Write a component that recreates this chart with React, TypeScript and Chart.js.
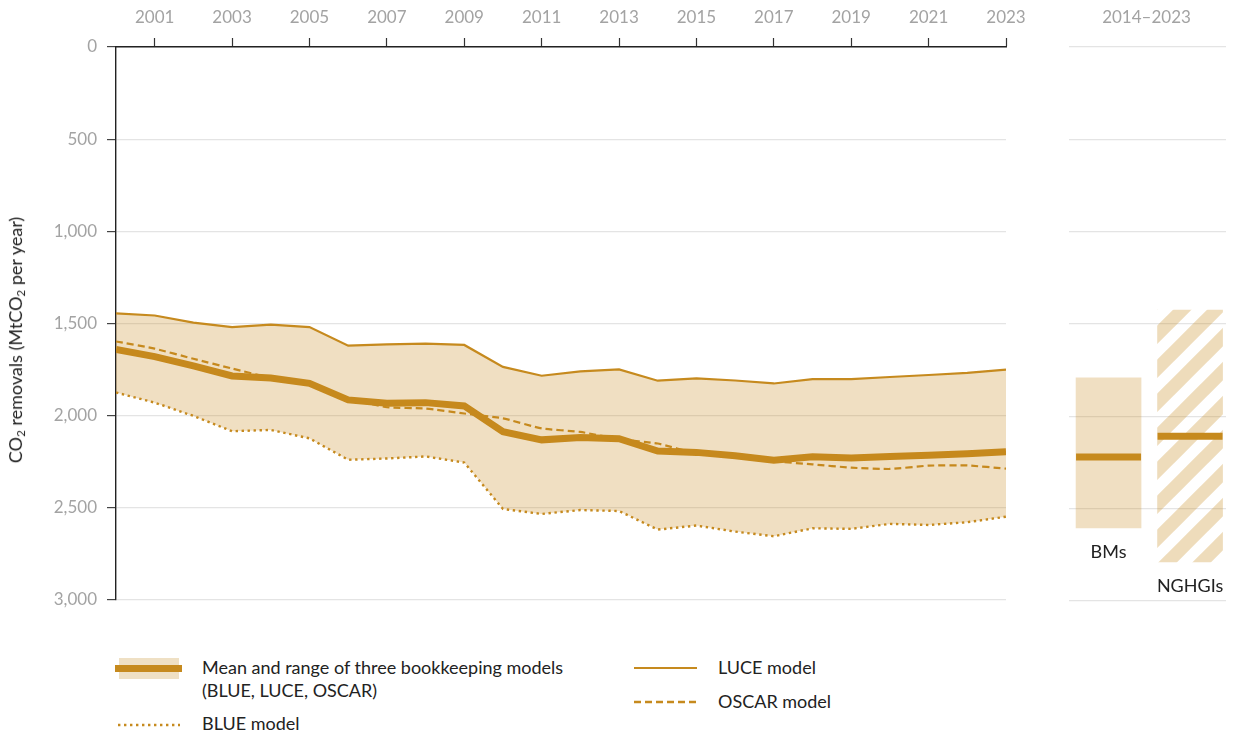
import React, { useEffect, useRef } from 'react';
import { Chart, registerables } from 'chart.js';

Chart.register(...registerables);

// ---------- data ----------
const years = [2000, 2001, 2002, 2003, 2004, 2005, 2006, 2007, 2008, 2009, 2010, 2011, 2012, 2013, 2014, 2015, 2016, 2017, 2018, 2019, 2020, 2021, 2022, 2023];
const xTickYears = [2001, 2003, 2005, 2007, 2009, 2011, 2013, 2015, 2017, 2019, 2021, 2023];
const luceModel = [1446, 1457, 1496, 1520, 1507, 1520, 1621, 1614, 1610, 1617, 1736, 1784, 1760, 1750, 1811, 1798, 1810, 1826, 1802, 1802, 1791, 1780, 1769, 1751];
const oscarModel = [1598, 1637, 1692, 1745, 1795, 1826, 1905, 1955, 1962, 1989, 2015, 2070, 2089, 2128, 2152, 2205, 2218, 2248, 2265, 2283, 2290, 2272, 2271, 2288];
const blueModel = [1875, 1930, 2002, 2085, 2078, 2124, 2240, 2233, 2222, 2255, 2507, 2534, 2513, 2518, 2619, 2597, 2630, 2655, 2612, 2615, 2588, 2594, 2579, 2549];
const meanModels = [1641, 1680, 1731, 1785, 1796, 1825, 1915, 1933, 1930, 1948, 2088, 2132, 2119, 2126, 2193, 2200, 2218, 2242, 2224, 2231, 2222, 2215, 2208, 2197];

const panelTitle = '2014–2023';
const panelLabels = ['BMs', 'NGHGIs'];
const panelLow = [1792, 1424];
const panelHigh = [2604, 2788];
const panelMeans = [2220, 2108];

// ---------- styles ----------
const GOLD = '#C68A1E';
const BAND = 'rgba(198,138,30,0.27)';
const TICK_GRAY = '#a3a3a3';
const GRID = '#e4e4e4';
const FONT = "Lato, 'Noto Sans', sans-serif";

const fmt = (v: number) => Number(v).toLocaleString('en-US');

function makeHatch(): CanvasPattern | string {
  const s = 34;
  const c = document.createElement('canvas');
  c.width = s;
  c.height = s;
  const ctx = c.getContext('2d');
  if (!ctx) return BAND;
  ctx.strokeStyle = 'rgba(198,138,30,0.3)';
  ctx.lineWidth = 13;
  for (const k of [0, s, 2 * s]) {
    ctx.beginPath();
    ctx.moveTo(k + s, -s);
    ctx.lineTo(k - 2 * s, 2 * s);
    ctx.stroke();
  }
  return ctx.createPattern(c, 'repeat') || BAND;
}

export default function App() {
  const mainRef = useRef<HTMLCanvasElement>(null);
  const panelRef = useRef<HTMLCanvasElement>(null);

  useEffect(() => {
    const pts = (arr: number[]) => arr.map((v, i) => ({ x: years[i], y: v }));
    const tickFont = { family: FONT, size: 17 };

    const main = new Chart(mainRef.current as HTMLCanvasElement, {
      type: 'line',
      data: {
        datasets: [
          {
            label: 'LUCE model',
            data: pts(luceModel),
            borderColor: GOLD,
            borderWidth: 2.2,
            pointRadius: 0,
            fill: 2,
            backgroundColor: BAND,
          },
          {
            label: 'OSCAR model',
            data: pts(oscarModel),
            borderColor: GOLD,
            borderWidth: 2.2,
            borderDash: [7, 4],
            pointRadius: 0,
            fill: false,
            tension: 0.15,
          },
          {
            label: 'BLUE model',
            data: pts(blueModel),
            borderColor: GOLD,
            borderWidth: 2.4,
            borderDash: [2.4, 3.6],
            pointRadius: 0,
            fill: false,
          },
          {
            label: 'Mean',
            data: pts(meanModels),
            borderColor: GOLD,
            borderWidth: 7,
            pointRadius: 0,
            fill: false,
          },
        ],
      },
      options: {
        responsive: false,
        animation: false,
        layout: { padding: { left: 0, right: 34, top: 0, bottom: 19 } },
        plugins: { legend: { display: false }, tooltip: { enabled: false } },
        scales: {
          x: {
            type: 'linear',
            position: 'top',
            min: 2000,
            max: 2023,
            afterBuildTicks: (axis: any) => {
              axis.ticks = xTickYears.map((v) => ({ value: v }));
            },
            afterFit: (s: any) => {
              s.height = 47;
            },
            ticks: {
              callback: (v: any) => String(v),
              color: TICK_GRAY,
              font: tickFont,
              padding: 10,
              maxRotation: 0,
              autoSkip: false,
            },
            grid: { drawOnChartArea: false, tickLength: 9, tickColor: '#333', tickWidth: 1.2 },
            border: { color: '#222', width: 1.4 },
          },
          y: {
            reverse: true,
            min: 0,
            max: 3000,
            afterFit: (s: any) => {
              s.width = 116;
            },
            ticks: {
              stepSize: 500,
              callback: (v: any) => fmt(v),
              color: TICK_GRAY,
              font: tickFont,
              padding: 10,
            },
            grid: { color: GRID, tickColor: '#444', tickLength: 9, lineWidth: 1.2 },
            border: { color: '#222', width: 1.4 },
          },
        },
      },
    } as any);

    const hatch = makeHatch();
    const labelPlugin = {
      id: 'panelLabels',
      afterDatasetsDraw(chart: any) {
        const ctx = chart.ctx;
        const meta = chart.getDatasetMeta(0);
        ctx.save();
        ctx.font = `18px ${FONT}`;
        ctx.textAlign = 'center';
        ctx.textBaseline = 'middle';
        ctx.fillStyle = '#222';
        meta.data.forEach((el: any, i: number) => {
          const bottom = Math.max(el.y, el.base);
          ctx.fillText(panelLabels[i], el.x, bottom + 24);
        });
        ctx.font = `17px ${FONT}`;
        ctx.fillStyle = TICK_GRAY;
        const ca = chart.chartArea;
        ctx.fillText(panelTitle, (ca.left + ca.right) / 2 - 1, 18);
        ctx.restore();
      },
    };

    const panel = new Chart(panelRef.current as HTMLCanvasElement, {
      type: 'bar',
      data: {
        datasets: [
          {
            type: 'bar',
            data: panelLabels.map((_, i) => ({ x: i, y: [panelLow[i], panelHigh[i]] })),
            backgroundColor: [BAND, hatch],
            barThickness: 65,
            grouped: false,
            order: 2,
          },
          {
            type: 'line',
            data: panelLabels.map((_, i) => ({ x: i, y: panelMeans[i] })),
            showLine: false,
            pointStyle: 'line',
            pointRadius: 32.5,
            pointBorderWidth: 7,
            pointBorderColor: GOLD,
            pointBackgroundColor: GOLD,
            order: 1,
          },
        ],
      },
      options: {
        responsive: false,
        animation: false,
        layout: { autoPadding: false, padding: { left: 19, right: 8, top: 47, bottom: 19 } },
        plugins: { legend: { display: false }, tooltip: { enabled: false } },
        scales: {
          x: { type: 'linear', display: false, offset: false, min: -0.485, max: 1.441 },
          y: {
            reverse: true,
            min: 0,
            max: 3000,
            afterFit: (s: any) => {
              s.width = 0;
            },
            ticks: { display: false, stepSize: 500 },
            grid: { color: GRID, drawTicks: false, lineWidth: 1.2 },
            border: { display: false },
          },
        },
      },
      plugins: [labelPlugin],
    } as any);

    return () => {
      main.destroy();
      panel.destroy();
    };
  }, []);

  const text: React.CSSProperties = {
    position: 'absolute',
    fontFamily: FONT,
    fontSize: 18,
    lineHeight: '23px',
    color: '#222',
    whiteSpace: 'nowrap',
  };

  return (
    <div style={{ position: 'absolute', left: 0, top: 0, width: 1234, height: 738, background: '#fff', overflow: 'hidden' }}>
      <canvas ref={mainRef} width={1040} height={620} style={{ position: 'absolute', left: 0, top: 0, width: 1040, height: 620 }} />
      <canvas ref={panelRef} width={184} height={620} style={{ position: 'absolute', left: 1050, top: 0, width: 184, height: 620 }} />

      <div
        style={{
          ...text,
          fontSize: 18,
          left: 18,
          top: 340,
          transform: 'translate(-50%, -50%) rotate(-90deg)',
        }}
      >
        CO<sub style={{ fontSize: '0.65em', verticalAlign: '-0.25em' }}>2</sub> removals (MtCO
        <sub style={{ fontSize: '0.65em', verticalAlign: '-0.25em' }}>2</sub> per year)
      </div>

      {/* legend */}
      <div style={{ position: 'absolute', left: 119, top: 658, width: 60, height: 21, background: '#EFE0C4' }} />
      <div style={{ position: 'absolute', left: 115, top: 665, width: 67, height: 7, background: GOLD }} />
      <div style={{ ...text, left: 202, top: 656 }}>
        Mean and range of three bookkeeping models
        <br />
        (BLUE, LUCE, OSCAR)
      </div>

      <svg style={{ position: 'absolute', left: 118, top: 721 }} width={62} height={8}>
        <line x1={0} y1={4} x2={62} y2={4} stroke={GOLD} strokeWidth={2.4} strokeDasharray="2.4 3.6" />
      </svg>
      <div style={{ ...text, left: 202, top: 712 }}>BLUE model</div>

      <div style={{ position: 'absolute', left: 634, top: 667, width: 63, height: 2.3, background: GOLD }} />
      <div style={{ ...text, left: 718, top: 656 }}>LUCE model</div>

      <svg style={{ position: 'absolute', left: 634, top: 698 }} width={64} height={8}>
        <line x1={0} y1={4} x2={64} y2={4} stroke={GOLD} strokeWidth={2.3} strokeDasharray="7 4" />
      </svg>
      <div style={{ ...text, left: 718, top: 690 }}>OSCAR model</div>
    </div>
  );
}
